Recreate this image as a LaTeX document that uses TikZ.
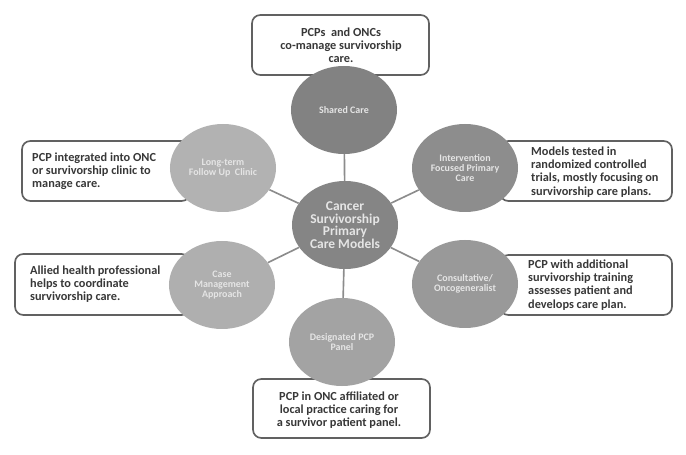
\documentclass[tikz,border=0pt]{standalone}
\usepackage{fontspec}
\setmainfont{Carlito}
\usetikzlibrary{shapes.geometric}

\definecolor{hubgray}{HTML}{858585}
\definecolor{sharedgray}{HTML}{828282}
\definecolor{longgray}{HTML}{B2B2B2}
\definecolor{intgray}{HTML}{8D8D8D}
\definecolor{casegray}{HTML}{AFAFAF}
\definecolor{consgray}{HTML}{999999}
\definecolor{desggray}{HTML}{A3A3A3}

\begin{document}
\begin{tikzpicture}[x=0.03cm,y=-0.03cm,
  infobox/.style={draw=black!62,line width=1.4pt,fill=white,rounded corners=0.25cm},
  infotext/.style={font=\bfseries\fontsize{10.5}{11.3}\selectfont,text=black!78,inner sep=0pt},
  model/.style={ellipse,minimum width=3.18cm,minimum height=2.64cm,inner sep=0pt,align=center,
    font=\bfseries\fontsize{8.5}{8.3}\selectfont,text=white!90!black},
  spoke/.style={draw=black!45,line width=1.4pt}]
\useasboundingbox (0,0) rectangle (686,455);

% text boxes
\draw[infobox] (252,15) rectangle (429,75);
\draw[infobox] (22,141) rectangle (190,201);
\draw[infobox] (500,141) rectangle (672,201);
\draw[infobox] (15,254) rectangle (190,315);
\draw[infobox] (500,255) rectangle (672,315);
\draw[infobox] (253,379) rectangle (430,438);

% models
\node[model,fill=hubgray,font=\bfseries\fontsize{11.5}{10.8}\selectfont] (hub) at (345,225) {Cancer\\Survivorship\\Primary\\Care Models};
\node[model,fill=sharedgray] (shared) at (344,110) {Shared Care};
\node[model,fill=longgray] (longterm) at (223,168) {Long-term\\Follow Up\ \ Clinic};
\node[model,fill=intgray] (intervention) at (465,168) {Intervention\\Focused Primary\\Care};
\node[model,fill=casegray] (casemgmt) at (222,285) {Case\\Management\\Approach};
\node[model,fill=consgray] (consult) at (465,284) {Consultative/\\Oncogeneralist};
\node[model,fill=desggray] (designated) at (342,342) {Designated PCP\\Panel};

\foreach \m in {shared,longterm,intervention,casemgmt,consult,designated}
  \draw[spoke] (hub) -- (\m);

% descriptions
\node[infotext,align=center] (sharedtxt) at (341,45) {PCPs\ \ and ONCs\\co-manage survivorship\\care.};
\node[infotext,align=left,anchor=west] (longtxt) at (32,171) {PCP integrated into ONC\\or survivorship clinic to\\manage care.};
\node[infotext,align=left,anchor=west] (inttxt) at (531,172) {Models tested in\\randomized controlled\\trials, mostly focusing on\\survivorship care plans.};
\node[infotext,align=left,anchor=west] (casetxt) at (30,284) {Allied health professional\\helps to coordinate\\survivorship care.};
\node[infotext,align=left,anchor=west] (constxt) at (528,285) {PCP with additional\\survivorship training\\assesses patient and\\develops care plan.};
\node[infotext,align=center] (desgtxt) at (339,410) {PCP in ONC affiliated or\\local practice caring for\\a survivor patient panel.};

\end{tikzpicture}
\end{document}
